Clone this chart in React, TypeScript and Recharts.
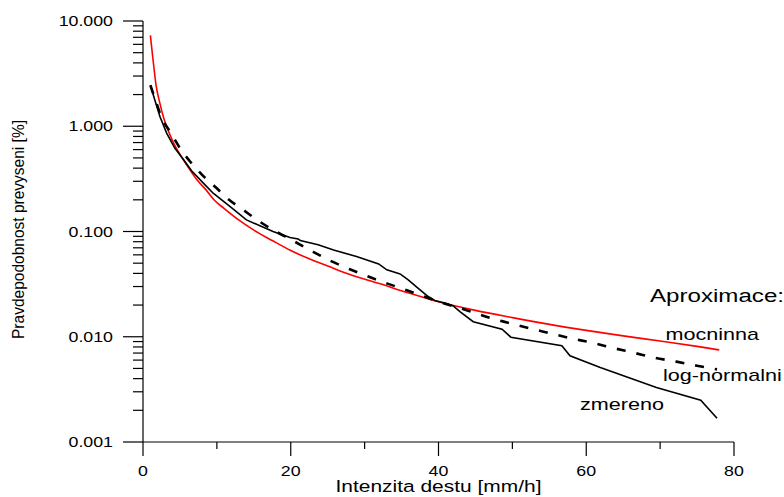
import React from 'react';
import { LineChart, Line, XAxis, YAxis } from 'recharts';

// mocninna (power-law fit)
const mocX = [1, 1.25, 1.5, 1.75, 2.2, 2.8, 3.5, 4.2, 5, 6, 7.3, 8.5, 9.6, 11, 13, 15, 17.5, 20, 22.5, 25, 28, 32, 36, 40, 45, 50, 55, 60, 65, 70, 75, 78];
const mocY = [7.3, 5.0, 3.5, 2.5, 1.75, 1.2, 0.88, 0.68, 0.54, 0.42, 0.31, 0.25, 0.2, 0.165, 0.128, 0.103, 0.082, 0.066, 0.055, 0.047, 0.039, 0.032, 0.026, 0.0215, 0.0178, 0.0152, 0.0131, 0.0115, 0.0102, 0.0091, 0.0081, 0.0075];

// log-normalni fit
const logX = [1, 1.75, 2.5, 3.75, 5, 6.4, 8, 9.8, 11.4, 13.6, 15.8, 18, 20, 22.7, 25.3, 27.9, 30.5, 33.2, 35.8, 38.4, 41, 44, 46.7, 49.4, 52.2, 55.1, 57.8, 60.7, 63.7, 66.6, 69.3, 72.2, 75, 77.7];
const logY = [2.45, 1.72, 1.22, 0.87, 0.62, 0.46, 0.345, 0.265, 0.207, 0.16, 0.124, 0.1, 0.084, 0.066, 0.053, 0.044, 0.0373, 0.0318, 0.0275, 0.0236, 0.0205, 0.0177, 0.0153, 0.0136, 0.0121, 0.0108, 0.0097, 0.0088, 0.0078, 0.007, 0.0063, 0.0058, 0.0053, 0.0049];

// zmereno (measured)
const measX = [1, 1.6, 2.3, 3.2, 4.3, 5.5, 6.6, 8.4, 9.5, 11.8, 14, 17.6, 19.9, 21, 21.3, 23.7, 25.8, 28.9, 31.9, 33, 34.8, 35.9, 37.5, 38.6, 39.5, 41.1, 42, 42.9, 44.7, 48.6, 49.8, 56.7, 57.8, 61.9, 69.5, 75.5, 77.7];
const measY = [2.45, 1.78, 1.23, 0.86, 0.62, 0.48, 0.375, 0.277, 0.231, 0.172, 0.129, 0.1, 0.0876, 0.085, 0.082, 0.0747, 0.0668, 0.0578, 0.0492, 0.0432, 0.0395, 0.0347, 0.0279, 0.0241, 0.0221, 0.0207, 0.0196, 0.0173, 0.0139, 0.0118, 0.0099, 0.0082, 0.0066, 0.0051, 0.0033, 0.0025, 0.00168];

const xTicks = [0, 10, 20, 30, 40, 50, 60, 70, 80];
const xMajor = [0, 20, 40, 60, 80];
const yMajor = [0.001, 0.01, 0.1, 1, 10];
const yTicks = [
  0.001, 0.002, 0.003, 0.004, 0.005, 0.006, 0.007, 0.008, 0.009,
  0.01, 0.02, 0.03, 0.04, 0.05, 0.06, 0.07, 0.08, 0.09,
  0.1, 0.2, 0.3, 0.4, 0.5, 0.6, 0.7, 0.8, 0.9,
  1, 2, 3, 4, 5, 6, 7, 8, 9,
  10,
];

const toPoints = (xs: number[], ys: number[]) => xs.map((x, i) => ({ x, y: ys[i] }));
const mocData = toPoints(mocX, mocY);
const logData = toPoints(logX, logY);
const measData = toPoints(measX, measY);

const FONT = '"Liberation Sans", Arial, sans-serif';
const SX = 1.27; // text in the source is drawn wide

const YTick = (props: any) => {
  const { x, y, payload } = props;
  const v = payload.value;
  const major = yMajor.includes(v);
  return (
    <g>
      <line x1={x - (major ? 20 : 10)} x2={x} y1={y} y2={y} stroke="#000" strokeWidth={1.2} />
      {major && (
        <text transform={`translate(${x - 30},${y + 5}) scale(${SX},1)`} textAnchor="end" fontSize={14} fontFamily={FONT} fill="#000">
          {v.toFixed(3)}
        </text>
      )}
    </g>
  );
};

const XTick = (props: any) => {
  const { x, y, payload } = props;
  const v = payload.value;
  const major = xMajor.includes(v);
  return (
    <g>
      <line x1={x} x2={x} y1={y} y2={y + (major ? 14 : 7)} stroke="#000" strokeWidth={1.2} />
      {major && (
        <text transform={`translate(${x},${y + 34}) scale(${SX},1)`} textAnchor="middle" fontSize={14} fontFamily={FONT} fill="#000">
          {v}
        </text>
      )}
    </g>
  );
};

const XTitle = (props: any) => {
  const vb = props.viewBox;
  return (
    <text transform={`translate(${vb.x + vb.width / 2},${vb.y + 50}) scale(${SX},1)`} textAnchor="middle" fontSize={16.5} fontFamily={FONT} fill="#000">
      Intenzita destu [mm/h]
    </text>
  );
};

const YTitle = (props: any) => {
  const vb = props.viewBox;
  return (
    <text
      transform={`translate(${vb.x + 18.5},${vb.y + vb.height / 2 - 2}) rotate(-90) scale(1,1.15)`}
      textAnchor="middle"
      dominantBaseline="central"
      fontSize={14}
      fontFamily={FONT}
      textLength={219}
      lengthAdjust="spacingAndGlyphs"
      fill="#000"
    >
      Pravdepodobnost prevyseni [%]
    </text>
  );
};

const Note = ({ x, y, size, children }: { x: number; y: number; size: number; children: string }) => (
  <text transform={`translate(${x},${y}) scale(${SX},1)`} fontSize={size} fontFamily={FONT} fill="#000">
    {children}
  </text>
);

export default function App() {
  return (
    <div style={{ position: 'absolute', left: 0, top: 0, width: 784, height: 497, background: '#fff' }}>
      <LineChart width={784} height={497} margin={{ top: 21, right: 50, left: 0, bottom: 0 }}>
        <XAxis
          type="number"
          dataKey="x"
          domain={[0, 80]}
          ticks={xTicks}
          interval={0}
          allowDataOverflow
          height={55}
          tickSize={0}
          tickMargin={0}
          tickLine={false}
          axisLine={{ stroke: '#000', strokeWidth: 1.2 }}
          tick={<XTick />}
          label={{ content: <XTitle /> }}
        />
        <YAxis
          type="number"
          dataKey="y"
          scale="log"
          domain={[0.001, 10]}
          ticks={yTicks}
          interval={0}
          allowDataOverflow
          width={143}
          tickSize={0}
          tickMargin={0}
          tickLine={false}
          axisLine={{ stroke: '#000', strokeWidth: 1.2 }}
          tick={<YTick />}
          label={{ content: <YTitle /> }}
        />
        <Line data={mocData} dataKey="y" type="monotone" stroke="#ff0000" strokeWidth={1.6} dot={false} isAnimationActive={false} />
        <Line data={logData} dataKey="y" type="monotone" stroke="#000" strokeWidth={2.6} strokeDasharray="9 11" dot={false} isAnimationActive={false} />
        <Line data={measData} dataKey="y" type="linear" stroke="#000" strokeWidth={1.6} dot={false} isAnimationActive={false} />
      </LineChart>
      <svg width={784} height={497} style={{ position: 'absolute', left: 0, top: 0, pointerEvents: 'none' }}>
        <Note x={650} y={302} size={19}>Aproximace:</Note>
        <Note x={665.5} y={340} size={17}>mocninna</Note>
        <Note x={663} y={381} size={17}>log-normalni</Note>
        <Note x={580} y={410} size={17}>zmereno</Note>
      </svg>
    </div>
  );
}
